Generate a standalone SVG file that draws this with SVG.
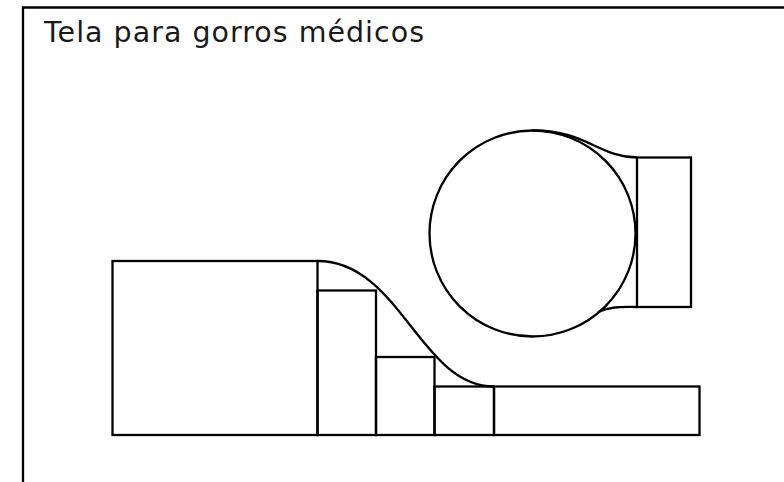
<svg xmlns="http://www.w3.org/2000/svg" width="784" height="482" viewBox="0 0 784 482">
<style>
.s{fill:none;stroke:#000;stroke-width:2.3}
.t{font-family:"DejaVu Sans","Noto Sans",sans-serif;font-size:28.5px;fill:#1a1a1a}
</style>
<rect width="784" height="482" fill="#fff"/>
<g id="frame"><path class="s" d="M23 490 V7.5 H790" stroke-width="2.5"/></g>
<text class="t" x="44" y="42" textLength="380" lengthAdjust="spacing">Tela para gorros médicos</text>
<g id="roller"><circle class="s" cx="532.5" cy="233.5" r="103"/></g>
<g id="roller-block"><rect class="s" x="637" y="157.5" width="54" height="149.5"/></g>
<g id="block-large"><rect class="s" x="112.5" y="261" width="205" height="174"/></g>
<g id="step-1"><rect class="s" x="317.5" y="290.5" width="58.5" height="144.5"/></g>
<g id="step-2"><rect class="s" x="376" y="357" width="58.5" height="78"/></g>
<g id="step-3"><rect class="s" x="434.5" y="386.5" width="59.5" height="48.5"/></g>
<g id="base"><rect class="s" x="494" y="386.5" width="205.5" height="48.5"/></g>
<g id="connectors">
<path class="s" d="M317.5 261 C400 261 420 386.5 494 386.5"/>
<path class="s" d="M532.5 130.5 C585 130 600 157.5 637 157.5"/>
<path class="s" d="M598 312 C612 306 622 307 637 307"/>
</g>
</svg>
